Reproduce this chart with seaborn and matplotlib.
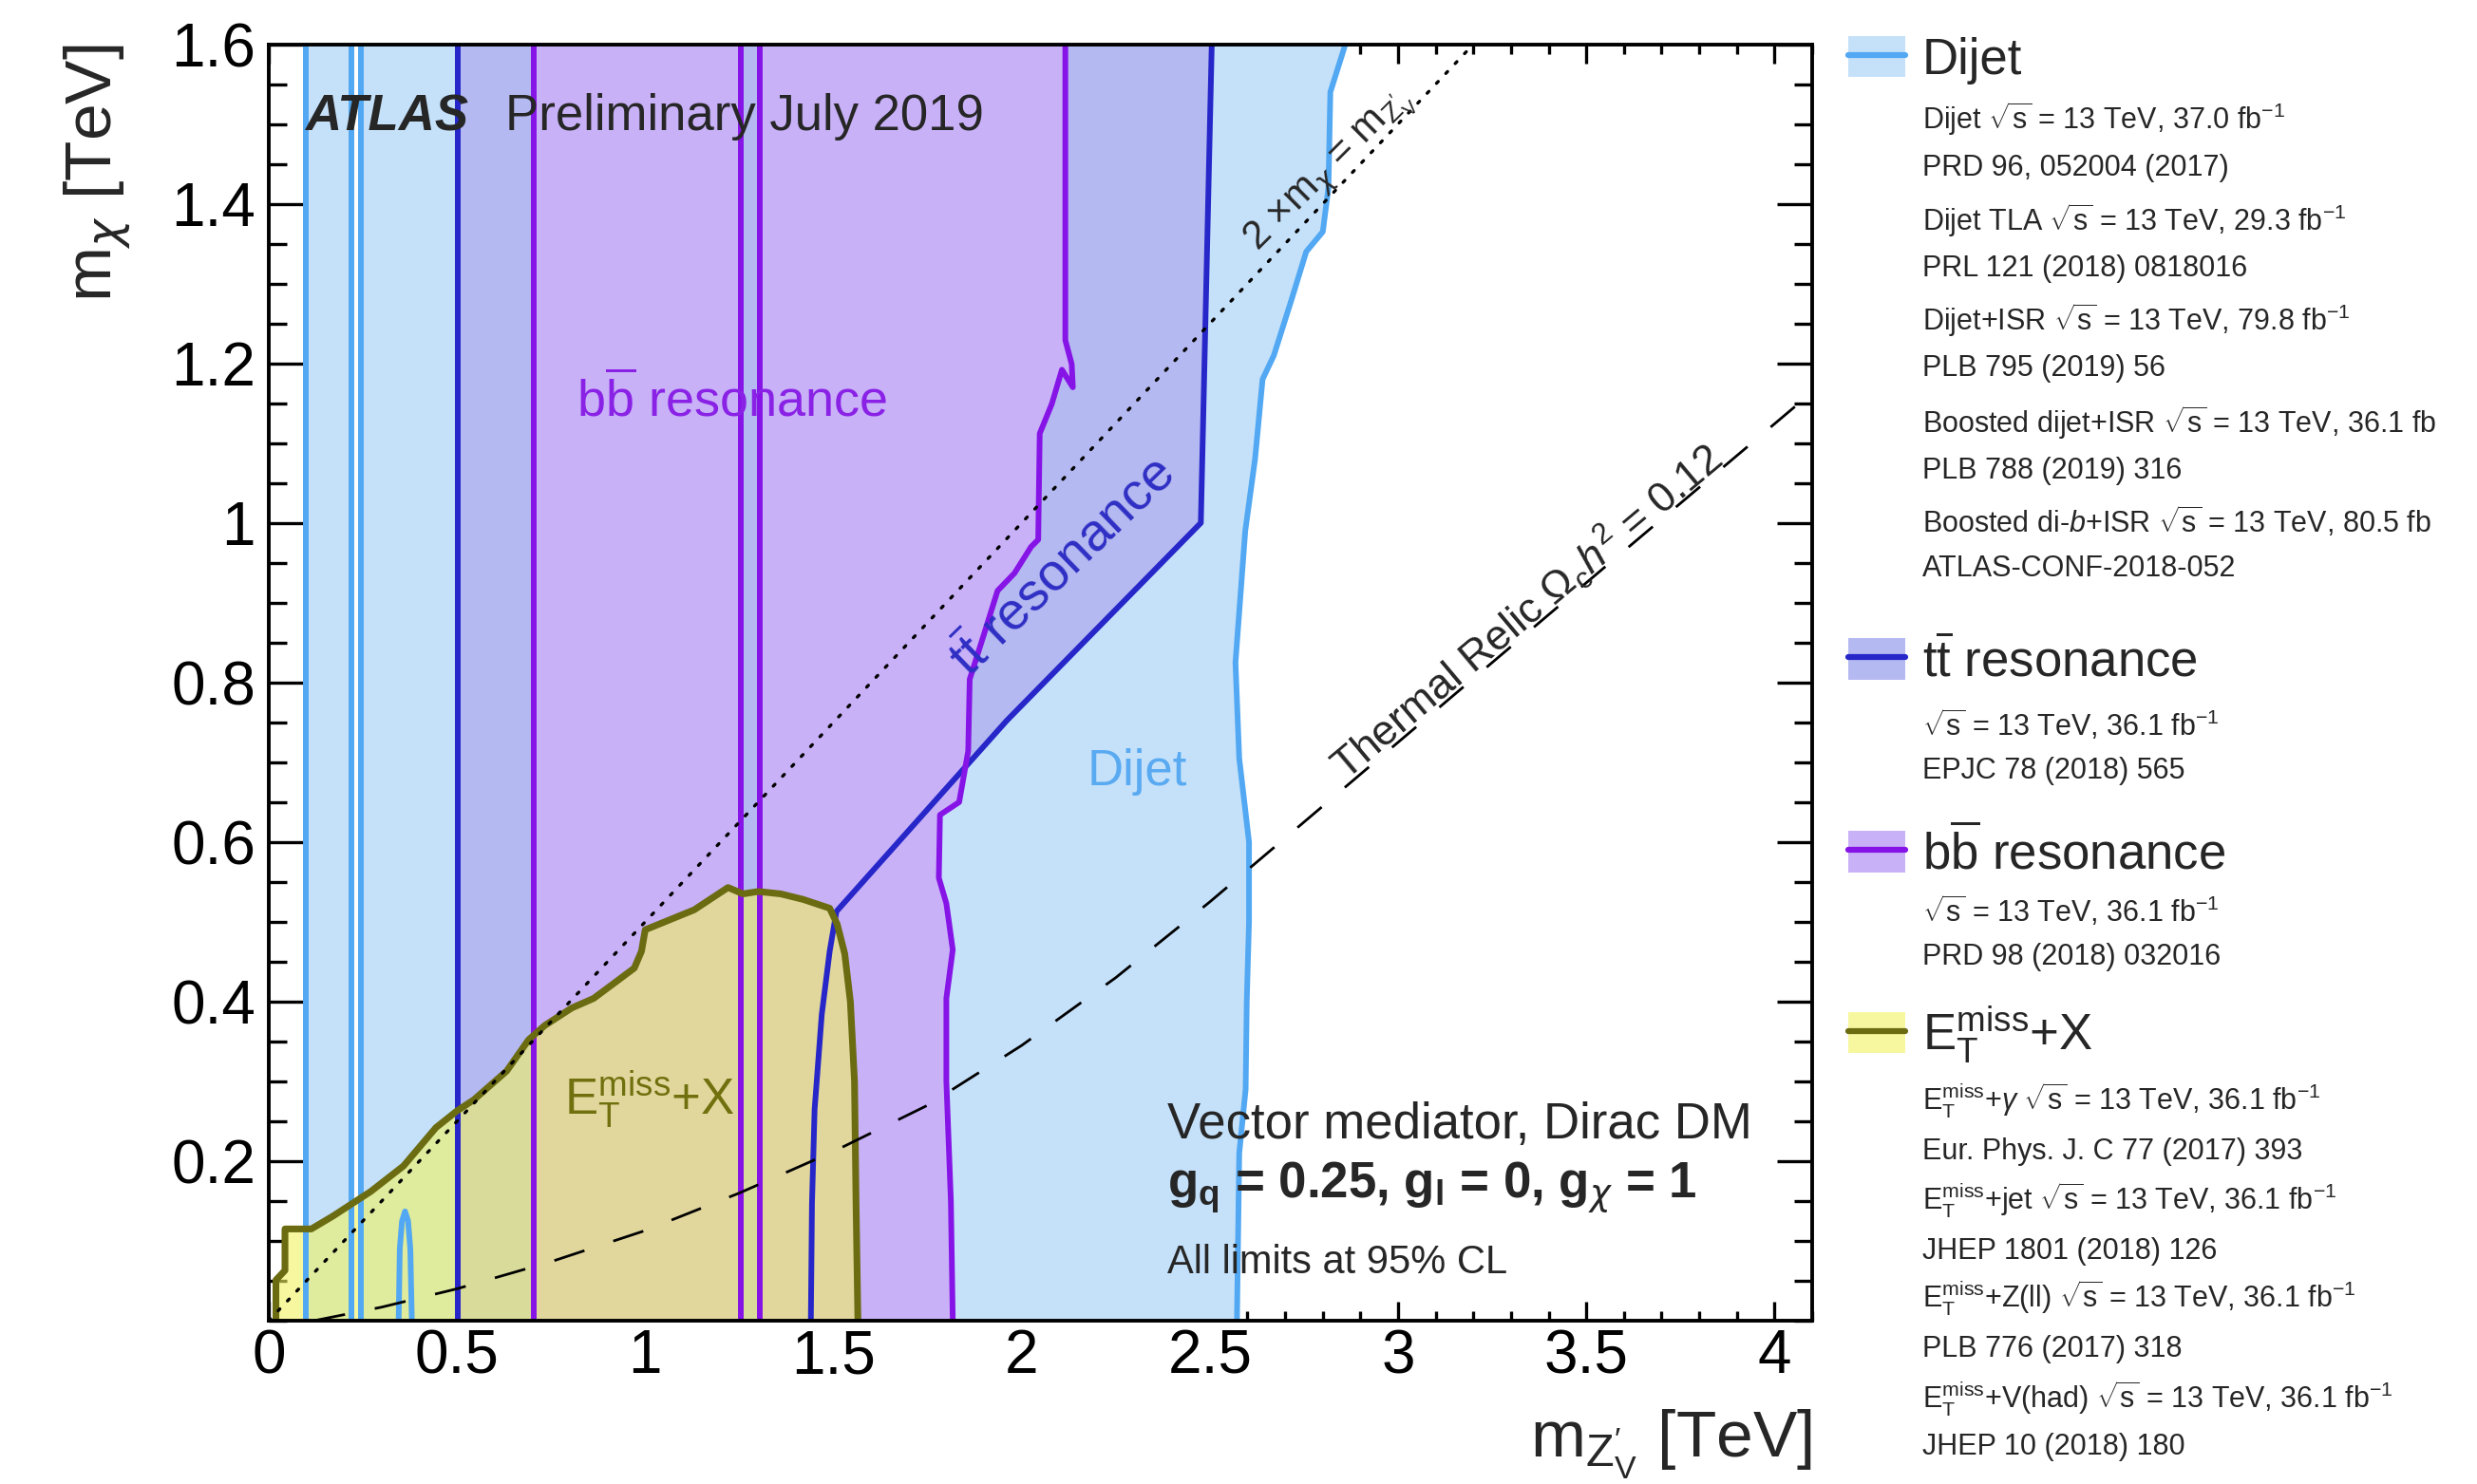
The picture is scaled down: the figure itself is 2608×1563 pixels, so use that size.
import matplotlib
matplotlib.use("Agg")
import matplotlib.pyplot as plt
import numpy as np
import seaborn as sns
from matplotlib.patches import Patch
from matplotlib.lines import Line2D
from matplotlib.ticker import MultipleLocator, FixedLocator, FixedFormatter

# ---------------- exclusion contours: (m_Z'V [TeV], m_chi [TeV]) ----------------
XMAX, YMAX = 4.1, 1.6

# Dijet searches
dijet_strip = [0.098, 0.22]
dijet_main_start = 0.245
dijet_edge_x = [2.572, 2.578, 2.595, 2.598, 2.604, 2.604, 2.578, 2.568, 2.594,
                2.62, 2.64, 2.67, 2.717, 2.756, 2.80, 2.815, 2.82, 2.86]
dijet_edge_y = [0.0, 0.21, 0.29, 0.40, 0.50, 0.60, 0.705, 0.825, 0.99,
                1.08, 1.18, 1.21, 1.28, 1.34, 1.365, 1.42, 1.54, 1.60]
dijet_island_x = [0.345, 0.348, 0.354, 0.362, 0.370, 0.376, 0.380]
dijet_island_y = [0.0, 0.09, 0.125, 0.137, 0.125, 0.09, 0.0]

# ttbar resonance
tt_start = 0.502
tt_edge_x = [1.44, 1.443, 1.45, 1.469, 1.49, 1.508, 1.96, 2.476, 2.505]
tt_edge_y = [0.0, 0.147, 0.265, 0.384, 0.463, 0.513, 0.752, 1.0, 1.6]

# bbbar resonance
bb_band = [0.704, 1.255]
bb_start = 1.305
bb_edge_x = [1.817, 1.812, 1.80, 1.80, 1.817, 1.80, 1.78, 1.783, 1.834, 1.858,
             1.862, 1.901, 1.936, 1.981, 2.025, 2.044, 2.048, 2.08, 2.107,
             2.136, 2.133, 2.116, 2.116]
bb_edge_y = [0.0, 0.15, 0.30, 0.404, 0.465, 0.523, 0.555, 0.634, 0.65, 0.714,
             0.804, 0.862, 0.915, 0.937, 0.97, 0.979, 1.112, 1.149, 1.192,
             1.17, 1.199, 1.229, 1.6]

# MET+X combination
met_x = [0.019, 0.019, 0.043, 0.043, 0.113, 0.17, 0.271, 0.358, 0.444, 0.50,
         0.545, 0.632, 0.69, 0.733, 0.805, 0.863, 0.92, 0.971, 0.99, 1.0, 1.13,
         1.22, 1.26, 1.30, 1.36, 1.42, 1.49, 1.51, 1.53, 1.545, 1.556, 1.56, 1.565]
met_y = [0.0, 0.051, 0.063, 0.115, 0.115, 0.131, 0.162, 0.194, 0.242, 0.263,
         0.277, 0.313, 0.352, 0.37, 0.392, 0.404, 0.424, 0.442, 0.463, 0.49, 0.515,
         0.543, 0.535, 0.538, 0.535, 0.528, 0.517, 0.497, 0.46, 0.40, 0.30, 0.15, 0.0]

# reference curves
kin_x = [0.0, 3.2]
kin_y = [0.0, 1.6]
relic_x = [0.12, 0.3, 0.5, 0.75, 1.0, 1.25, 1.5, 1.75, 2.0, 2.25, 2.5, 3.0, 3.5, 4.1]
relic_y = [0.0, 0.017, 0.040, 0.074, 0.113, 0.160, 0.212, 0.270, 0.345, 0.430,
           0.525, 0.725, 0.925, 1.164]

# axis ticks
xticks = [0, 0.5, 1, 1.5, 2, 2.5, 3, 3.5, 4]
xtick_labels = ["0", "0.5", "1", "1.5", "2", "2.5", "3", "3.5", "4"]
yticks = [0.2, 0.4, 0.6, 0.8, 1.0, 1.2, 1.4, 1.6]
ytick_labels = ["0.2", "0.4", "0.6", "0.8", "1", "1.2", "1.4", "1.6"]

# colours
dijet_fill, dijet_line = "#c5e1fa", "#52a8f2"
tt_fill, tt_line = "#b5b9f1", "#2626c9"
bb_fill, bb_line = "#c9b1f8", "#8614e6"
met_fill, met_line, met_alpha = "#f2f260", "#6b6b12", 0.6

# ---------------- style ----------------
sns.set_theme(style="ticks")
plt.rcParams["font.family"] = ["Liberation Sans", "DejaVu Sans"]
plt.rcParams["mathtext.fontset"] = "custom"
plt.rcParams["mathtext.rm"] = "Liberation Sans"
plt.rcParams["mathtext.it"] = "Liberation Sans:italic"
plt.rcParams["mathtext.bf"] = "Liberation Sans:bold"
plt.rcParams["mathtext.sf"] = "DejaVu Sans:italic"

CHI = r"\mathsf{\chi}"
BBAR = r"$\mathrm{b\overline{b}}$"
TTBAR = r"$\mathrm{t\overline{t}}$"
ZPV = r"\mathrm{Z}^{\prime}_{\mathrm{V}}"

W, H = 2608, 1563
fig = plt.figure(figsize=(W / 100, H / 100), dpi=100)
ax = fig.add_axes([283 / W, 1 - 1391 / H, (1908 - 283) / W, (1391 - 46.6) / H])
ax.set_facecolor("white")

LW = 4.3

# ---------------- filled regions ----------------
ax.fill_betweenx([0, YMAX], dijet_strip[0], dijet_strip[1], color=dijet_fill, lw=0, zorder=1)
ax.fill(np.r_[dijet_main_start, dijet_edge_x, dijet_main_start],
        np.r_[0.0, dijet_edge_y, YMAX], color=dijet_fill, lw=0, zorder=1)
ax.fill(np.r_[tt_start, tt_edge_x, tt_start],
        np.r_[0.0, tt_edge_y, YMAX], color=tt_fill, lw=0, zorder=2)
ax.fill_betweenx([0, YMAX], bb_band[0], bb_band[1], color=bb_fill, lw=0, zorder=3)
ax.fill(np.r_[bb_start, bb_edge_x, bb_start],
        np.r_[0.0, bb_edge_y, YMAX], color=bb_fill, lw=0, zorder=3)
ax.fill(met_x, met_y, color=met_fill, alpha=met_alpha, lw=0, zorder=4)

# ---------------- contour lines ----------------
for xv in [dijet_strip[0], dijet_strip[1], dijet_main_start]:
    ax.axvline(xv, color=dijet_line, lw=LW, zorder=5)
sns.lineplot(x=dijet_edge_x, y=dijet_edge_y, sort=False, estimator=None,
             color=dijet_line, lw=LW, ax=ax, zorder=5)
sns.lineplot(x=dijet_island_x, y=dijet_island_y, sort=False, estimator=None,
             color=dijet_line, lw=LW, ax=ax, zorder=5)

ax.axvline(tt_start, color=tt_line, lw=LW, zorder=6)
sns.lineplot(x=tt_edge_x, y=tt_edge_y, sort=False, estimator=None,
             color=tt_line, lw=LW, ax=ax, zorder=6)

for xv in [bb_band[0], bb_band[1], bb_start]:
    ax.axvline(xv, color=bb_line, lw=LW, zorder=7)
sns.lineplot(x=bb_edge_x, y=bb_edge_y, sort=False, estimator=None,
             color=bb_line, lw=LW, ax=ax, zorder=7)

sns.lineplot(x=met_x, y=met_y, sort=False, estimator=None,
             color=met_line, lw=LW + 0.8, ax=ax, zorder=8)

# kinematic threshold and relic density
sns.lineplot(x=kin_x, y=kin_y, sort=False, estimator=None, color="black", lw=2.4,
             linestyle=(0, (0.8, 3.5)), dash_capstyle="round", ax=ax, zorder=9)
sns.lineplot(x=relic_x, y=relic_y, sort=False, estimator=None, color="black", lw=2.0,
             linestyle=(0, (12, 11.5)), ax=ax, zorder=9)

# ---------------- axes ----------------
ax.set_xlim(0, XMAX)
ax.set_ylim(0, YMAX)
ax.xaxis.set_major_locator(FixedLocator(xticks))
ax.xaxis.set_major_formatter(FixedFormatter(xtick_labels))
ax.xaxis.set_minor_locator(MultipleLocator(0.1))
ax.yaxis.set_major_locator(FixedLocator(yticks))
ax.yaxis.set_major_formatter(FixedFormatter(ytick_labels))
ax.yaxis.set_minor_locator(MultipleLocator(0.05))
ax.tick_params(axis="both", which="both", direction="in", top=True, right=True,
               width=2.4, colors="black")
ax.tick_params(axis="x", which="major", length=14.5, labelsize=46, pad=6)
ax.tick_params(axis="x", which="minor", length=7.5)
ax.tick_params(axis="y", which="major", length=27, labelsize=46, pad=10)
ax.tick_params(axis="y", which="minor", length=14)
for sp in ax.spines.values():
    sp.set_linewidth(2.8)
    sp.set_color("black")
    sp.set_zorder(20)

ax.set_xlabel(f"m$_{{{ZPV}}}$ [TeV]", fontsize=50, loc="right")
ax.xaxis.set_label_coords(1.0, -0.068)
ax.set_ylabel(f"m$_{{{CHI}}}$ [TeV]", fontsize=50, loc="top")
ax.yaxis.set_label_coords(-0.088, 1.0)

# ---------------- annotations inside the frame ----------------
ax.text(0.0965, 1.492, "ATLAS", fontsize=38, fontweight="bold", fontstyle="italic",
        ha="left", va="baseline", zorder=12)
ax.text(0.629, 1.492, "Preliminary July 2019", fontsize=38, ha="left", va="baseline", zorder=12)

ax.text(0.818, 1.134, BBAR + " resonance", fontsize=39, color="#8a22e6",
        ha="left", va="baseline", zorder=12)
ax.text(2.11, 0.944, TTBAR + " resonance", fontsize=40, color="#2e2ec4",
        rotation=44, rotation_mode="anchor", ha="center", va="center", zorder=12)
ax.text(2.174, 0.671, "Dijet", fontsize=38, color="#5aaaf2", ha="left", va="baseline", zorder=12)
ax.text(0.785, 0.258, r"$\mathrm{E}_{\mathrm{T}}^{\mathrm{miss}}$+X", fontsize=38,
        color="#70700e", ha="left", va="baseline", zorder=12)

ax.text(2.819, 1.442, f"2 $\\times$m$_{{{CHI}}}$ = m$_{{{ZPV}}}$",
        fontsize=30, rotation=45, rotation_mode="anchor", ha="center", va="center", zorder=12)
ax.text(3.342, 0.888, r"Thermal Relic $\Omega_{\mathrm{c}}h^{2}$ = 0.12",
        fontsize=32, rotation=40, rotation_mode="anchor", ha="center", va="center", zorder=12)

ax.text(2.386, 0.229, "Vector mediator, Dirac DM", fontsize=38, ha="left", va="baseline", zorder=12)
ax.text(2.386, 0.154,
        f"g$_{{\\mathbf{{q}}}}$ = 0.25, g$_{{\\mathbf{{l}}}}$ = 0, g$_{{{CHI}}}$ = 1",
        fontsize=38, fontweight="bold", ha="left", va="baseline", zorder=12)
ax.text(2.386, 0.059, "All limits at 95% CL", fontsize=30, ha="left", va="baseline", zorder=12)

# ---------------- legend column ----------------
SCALE = H / 939.7  # vertical layout unit


def fy(y):
    return 1 - y * SCALE / H


sqrt_s = r"$\sqrt{\mathrm{s}}$"
met_sym = r"$\mathrm{E}_{\mathrm{T}}^{\mathrm{miss}}$"
groups = [
    ("Dijet", dijet_fill, dijet_line, 1.0, 38, [
        (f"Dijet {sqrt_s} = 13 TeV, 37.0 fb$^{{-1}}$", 76),
        ("PRD 96, 052004 (2017)", 105),
        (f"Dijet TLA {sqrt_s} = 13 TeV, 29.3 fb$^{{-1}}$", 140),
        ("PRL 121 (2018) 0818016", 169),
        (f"Dijet+ISR {sqrt_s} = 13 TeV, 79.8 fb$^{{-1}}$", 203),
        ("PLB 795 (2019) 56", 232),
        (f"Boosted dijet+ISR {sqrt_s} = 13 TeV, 36.1 fb", 268),
        ("PLB 788 (2019) 316", 297),
        (f"Boosted di-$b$+ISR {sqrt_s} = 13 TeV, 80.5 fb", 331),
        ("ATLAS-CONF-2018-052", 359),
    ]),
    (TTBAR + " resonance", tt_fill, tt_line, 1.0, 419, [
        (f"{sqrt_s} = 13 TeV, 36.1 fb$^{{-1}}$", 460),
        ("EPJC 78 (2018) 565", 487),
    ]),
    (BBAR + " resonance", bb_fill, bb_line, 1.0, 540, [
        (f"{sqrt_s} = 13 TeV, 36.1 fb$^{{-1}}$", 578),
        ("PRD 98 (2018) 032016", 605),
    ]),
    (met_sym + "+X", met_fill, met_line, met_alpha, 655, [
        (met_sym + f"+$\\gamma$ {sqrt_s} = 13 TeV, 36.1 fb$^{{-1}}$", 697),
        ("Eur. Phys. J. C 77 (2017) 393", 728),
        (met_sym + f"+jet {sqrt_s} = 13 TeV, 36.1 fb$^{{-1}}$", 760),
        ("JHEP 1801 (2018) 126", 791),
        (met_sym + f"+Z(ll) {sqrt_s} = 13 TeV, 36.1 fb$^{{-1}}$", 822),
        ("PLB 776 (2017) 318", 853),
        (met_sym + f"+V(had) {sqrt_s} = 13 TeV, 36.1 fb$^{{-1}}$", 886),
        ("JHEP 10 (2018) 180", 915),
    ]),
]

for label, fc, lc, alpha, yh, subs in groups:
    handle = (Patch(facecolor=fc, edgecolor="none", alpha=alpha),
              Line2D([], [], color=lc, lw=4.5))
    fig.legend([handle], [label], loc="center left", bbox_to_anchor=(1946 / W, fy(yh)),
               frameon=False, fontsize=38, handlelength=1.14, handleheight=0.89,
               handletextpad=0.34, borderpad=0, borderaxespad=0)
    for text, ys in subs:
        fig.text(2024 / W, fy(ys + 6), text, fontsize=22, ha="left", va="baseline")

fig.savefig("out.png", dpi=100, facecolor="white")
